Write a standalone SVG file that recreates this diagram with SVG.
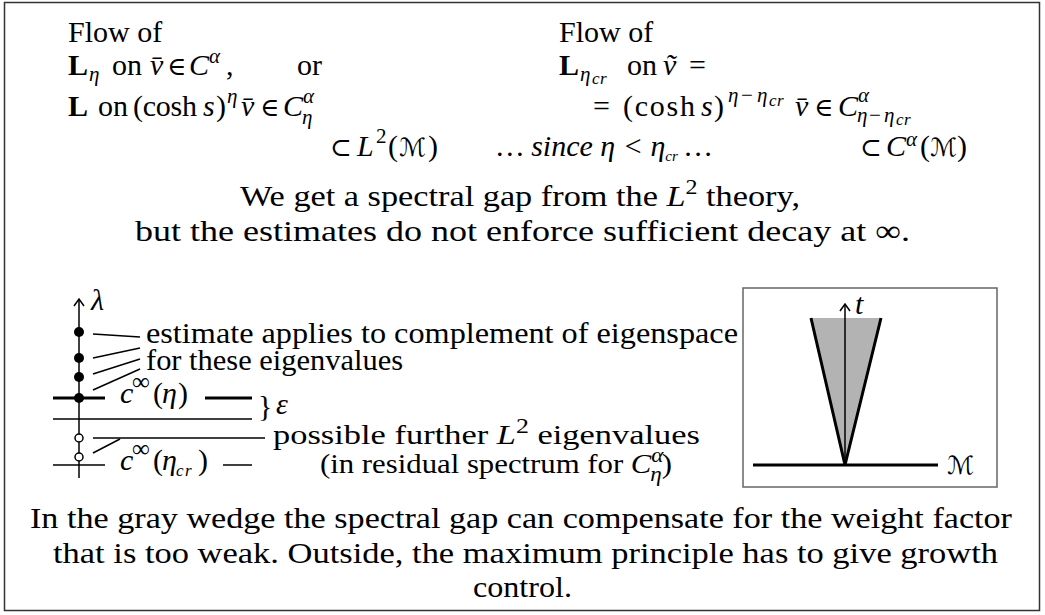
<svg xmlns="http://www.w3.org/2000/svg" width="1045" height="615" viewBox="0 0 1045 615">
<style>
.t{font-family:"Liberation Serif","DejaVu Serif",serif;font-size:30px;fill:#000}
.i{font-style:italic}
.b{font-weight:bold}
.s{font-size:21px}
.ss{font-size:17px}
.op{font-size:26px}
.inf{font-size:25px}
.sm{font-size:28px}
.cal{font-family:"DejaVu Sans","DejaVu Serif",sans-serif;font-style:italic;font-size:25px}
.ln{stroke:#000;stroke-width:1.5;fill:none}
.th{stroke:#000;stroke-width:3;fill:none}
</style>
<defs>
<marker id="ah" markerWidth="12" markerHeight="12" refX="8" refY="6" orient="auto" markerUnits="userSpaceOnUse">
<path d="M1,1 L8,6 L1,11" fill="none" stroke="#000" stroke-width="1.5"/>
</marker>
</defs>
<rect id="frame" x="4.5" y="2.5" width="1035" height="608" fill="#fff" stroke="#333" stroke-width="1.5"/>

<g id="top-left">
<text class="t" x="68" y="42">Flow of</text>
<text class="t" y="75"><tspan x="68" class="b">L</tspan><tspan class="i s" x="89" y="81">η</tspan><tspan x="112" y="75">on</tspan><tspan class="i" x="150">v̄</tspan><tspan class="op" x="167">∈</tspan><tspan class="i" x="189">C</tspan><tspan class="i s" x="209" y="63">α</tspan><tspan x="226" y="75">,</tspan><tspan x="297">or</tspan></text>
<text class="t" y="116"><tspan x="68" class="b">L</tspan><tspan x="98">on</tspan><tspan x="133" textLength="64" lengthAdjust="spacing">(cosh</tspan><tspan class="i" x="203">s</tspan><tspan x="216">)</tspan><tspan class="i s" x="227" y="103">η</tspan><tspan class="i" x="241" y="116">v̄</tspan><tspan class="op" x="260">∈</tspan><tspan class="i" x="283">C</tspan><tspan class="i s" x="303" y="103">α</tspan><tspan class="i s" x="302" y="124">η</tspan></text>
</g>

<g id="top-right">
<text class="t" x="559" y="42">Flow of</text>
<text class="t" y="75"><tspan x="559" class="b">L</tspan><tspan class="i s" x="580" y="81">η</tspan><tspan class="i ss" x="592" y="84">c</tspan><tspan class="i ss" x="600">r</tspan><tspan x="627" y="75">on</tspan><tspan class="i" x="663">ṽ</tspan><tspan x="689">=</tspan></text>
<text class="t" y="116"><tspan x="593">=</tspan><tspan x="623" textLength="72" lengthAdjust="spacing">(cosh</tspan><tspan class="i" x="701">s</tspan><tspan x="714">)</tspan><tspan class="i s" x="728" y="102">η</tspan><tspan class="s" x="741">−</tspan><tspan class="i s" x="757">η</tspan><tspan class="i ss" x="769" y="106">c</tspan><tspan class="i ss" x="777">r</tspan><tspan class="i" x="795" y="116">v̄</tspan><tspan class="op" x="814">∈</tspan><tspan class="i" x="838">C</tspan><tspan class="i s" x="858" y="102">α</tspan><tspan class="i s" x="857" y="122">η</tspan><tspan class="s" x="869">−</tspan><tspan class="i s" x="884">η</tspan><tspan class="i ss" x="896" y="125">c</tspan><tspan class="i ss" x="904">r</tspan></text>
</g>

<g id="inclusions">
<text class="t" y="156"><tspan class="op" x="330">⊂</tspan><tspan class="i" x="357">L</tspan><tspan class="s" x="376" y="143">2</tspan><tspan x="388" y="156">(</tspan><tspan class="cal" x="399">ℳ</tspan><tspan x="428">)</tspan></text>
<text class="t i" y="156" font-size="22"><tspan x="497">… since η &lt; η</tspan><tspan font-size="15" dy="5">cr</tspan><tspan dy="-5"> …</tspan></text>
<text class="t" y="156"><tspan class="op" x="860">⊂</tspan><tspan class="i" x="886">C</tspan><tspan class="i s" x="906" y="146">α</tspan><tspan x="920" y="156">(</tspan><tspan class="cal" x="930">ℳ</tspan><tspan x="957">)</tspan></text>
</g>

<g id="middle-text">
<text class="t" x="240" y="206" textLength="560" lengthAdjust="spacingAndGlyphs">We get a spectral gap from the <tspan class="i">L</tspan><tspan class="s" dy="-12">2</tspan><tspan dy="12"> theory,</tspan></text>
<text class="t" x="135" y="241" textLength="775" lengthAdjust="spacingAndGlyphs">but the estimates do not enforce sufficient decay at ∞.</text>
</g>

<g id="spectrum">
<line class="ln" x1="79" y1="478" x2="79" y2="299" marker-end="url(#ah)"/>
<text class="t i" x="91" y="310">λ</text>
<circle cx="79" cy="332" r="5"/>
<circle cx="79" cy="358" r="5"/>
<circle cx="79" cy="377" r="5"/>
<circle cx="79" cy="398" r="5"/>
<line class="th" x1="53" y1="398" x2="105" y2="398"/>
<line class="th" x1="205" y1="398" x2="252" y2="398"/>
<text class="t" y="403"><tspan class="i" x="120">c</tspan><tspan class="inf" x="132" y="390">∞</tspan><tspan x="153" y="403">(</tspan><tspan class="i" x="162">η</tspan><tspan x="178">)</tspan></text>
<line class="ln" x1="53" y1="419" x2="252" y2="419"/>
<text class="t" x="258" y="416" font-size="26">}</text>
<text class="t i" x="276" y="414">ε</text>
<line class="ln" x1="93" y1="438" x2="265" y2="438"/>
<circle cx="79" cy="438" r="4" fill="#fff" stroke="#000" stroke-width="1.5"/>
<circle cx="79" cy="457" r="4" fill="#fff" stroke="#000" stroke-width="1.5"/>
<line class="ln" x1="53" y1="465" x2="105" y2="465"/>
<line class="ln" x1="223" y1="465" x2="252" y2="465"/>
<text class="t" y="470"><tspan class="i" x="120">c</tspan><tspan class="inf" x="132" y="457">∞</tspan><tspan x="153" y="470">(</tspan><tspan class="i" x="162">η</tspan><tspan class="i ss" x="176" y="476">c</tspan><tspan class="i ss" x="185">r</tspan><tspan x="198" y="470">)</tspan></text>
<text class="t" x="146" y="343" textLength="592" lengthAdjust="spacingAndGlyphs">estimate applies to complement of eigenspace</text>
<text class="t" x="146" y="370" textLength="257" lengthAdjust="spacingAndGlyphs">for these eigenvalues</text>
<text class="t sm" x="273" y="444" textLength="427" lengthAdjust="spacingAndGlyphs">possible further <tspan class="i">L</tspan><tspan class="s" dy="-11">2</tspan><tspan dy="11"> eigenvalues</tspan></text>
<text class="t sm" x="320" y="473" textLength="352" lengthAdjust="spacingAndGlyphs">(in residual spectrum for <tspan class="i">C</tspan><tspan class="i s" dy="-11">α</tspan><tspan class="i s" dx="-12" dy="19">η</tspan><tspan dy="-8">)</tspan></text>
</g>

<g id="connectors">
<line class="ln" x1="93" y1="334" x2="140" y2="337"/>
<line class="ln" x1="93" y1="358" x2="140" y2="348"/>
<line class="ln" x1="93" y1="374" x2="140" y2="359"/>
<line class="ln" x1="93" y1="390" x2="140" y2="369"/>
<line class="ln" x1="93" y1="453" x2="120" y2="439"/>
</g>

<g id="wedge-box">
<rect x="743" y="288" width="254" height="199" fill="#fff" stroke="#666" stroke-width="1.5"/>
<polygon points="811,318 881,318 845,465" fill="#b3b3b3"/>
<polyline points="811,318 845,465 881,318" class="th" stroke-linejoin="miter"/>
<line class="ln" x1="845" y1="465" x2="845" y2="304" marker-end="url(#ah)"/>
<text class="t i" x="855" y="314">t</text>
<line class="th" x1="753" y1="465" x2="938" y2="465"/>
<text class="cal" x="947" y="474" font-size="30">ℳ</text>
</g>

<g id="bottom-text">
<text class="t" x="30" y="528" textLength="982" lengthAdjust="spacingAndGlyphs">In the gray wedge the spectral gap can compensate for the weight factor</text>
<text class="t" x="53" y="563" textLength="945" lengthAdjust="spacingAndGlyphs">that is too weak. Outside, the maximum principle has to give growth</text>
<text class="t" x="473" y="597" textLength="99" lengthAdjust="spacingAndGlyphs">control.</text>
</g>
</svg>
